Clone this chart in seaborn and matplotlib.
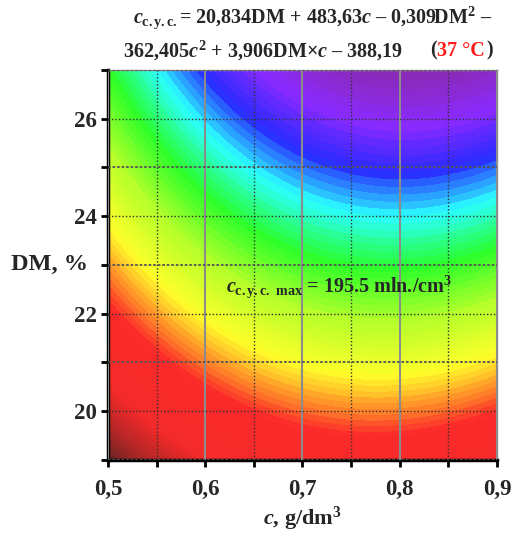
import numpy as np
import matplotlib
matplotlib.use("Agg")
import matplotlib.pyplot as plt
import seaborn as sns
from matplotlib.colors import LinearSegmentedColormap
from matplotlib.ticker import MultipleLocator, FuncFormatter

# regression coefficients from the title (37 °C)
coef_dm = 20.834
coef_c = 483.63
coef_dm2 = -0.309
coef_c2 = -362.405
coef_dmc = 3.906
intercept = -388.19

c_range = [0.5, 0.9]
dm_range = [19.0, 27.0]
x_ticks = [0.5, 0.6, 0.7, 0.8, 0.9]
y_ticks = [20, 22, 24, 26]
max_label = "195.5"

# colour stops (value, colour)
stop_values = [84, 92, 101, 117, 124, 131, 143, 154, 164, 172, 180, 191]
stop_colors = ["#5a2222", "#b02626", "#f42a2a", "#fc2a2a", "#ff9628", "#ffff2a",
               "#b4ff2a", "#2aff2a", "#2affff", "#2a2aff", "#8a2aff", "#8a2a9a"]

sns.set_style("white")
plt.rcParams["font.family"] = ["Liberation Serif", "DejaVu Serif"]
plt.rcParams["font.weight"] = "bold"
plt.rcParams["mathtext.fontset"] = "custom"
plt.rcParams["mathtext.rm"] = "Liberation Serif:bold"
plt.rcParams["mathtext.it"] = "Liberation Serif:italic:bold"
plt.rcParams["mathtext.bf"] = "Liberation Serif:bold"

cc = np.linspace(c_range[0], c_range[1], 300)
dd = np.linspace(dm_range[0], dm_range[1], 300)
C, D = np.meshgrid(cc, dd)
Z = (coef_dm * D + coef_c * C + coef_dm2 * D**2 + coef_c2 * C**2
     + coef_dmc * D * C + intercept)

vmin, vmax = stop_values[0], stop_values[-1]
pos = [(v - vmin) / (vmax - vmin) for v in stop_values]
cmap = LinearSegmentedColormap.from_list("spec", list(zip(pos, stop_colors)))

fig = plt.figure(figsize=(5.14, 5.33), dpi=100)
ax = fig.add_axes([0.210, 0.137, 0.757, 0.732])
levels = np.linspace(vmin, vmax, 80)
cs = ax.contourf(C, D, Z, levels=levels, cmap=cmap, extend="both")
cs.set_edgecolor("face")
cs.set_linewidth(0.6)

ax.set_xlim(c_range)
ax.set_ylim(dm_range)
ax.set_xticks(x_ticks)
ax.set_yticks(y_ticks)
ax.xaxis.set_minor_locator(MultipleLocator(0.05))
ax.yaxis.set_minor_locator(MultipleLocator(1))
ax.xaxis.set_major_formatter(FuncFormatter(lambda v, p: f"{v:.1f}".replace(".", ",")))

ax.set_axisbelow(False)
ax.grid(True, axis="x", which="major", color="#8c8c8c", lw=1.5, ls="-")
ax.grid(True, axis="x", which="minor", color="#333333", lw=1.0, ls=(0, (1, 1.5)))
ax.grid(True, axis="y", which="major", color="#333333", lw=1.0, ls=(0, (1, 1.5)))
ax.grid(True, axis="y", which="minor", color="#555555", lw=1.3, ls=(0, (1.5, 1)))

ax.tick_params(which="both", direction="out", length=5, width=2, color="black",
               bottom=True, left=True, top=False, right=False)
ax.tick_params(axis="x", labelsize=16.5, pad=9)
ax.tick_params(axis="y", labelsize=16.5, pad=3)
for side in ["left", "bottom"]:
    ax.spines[side].set_linewidth(2.5)
    ax.spines[side].set_color("black")
for side in ["top", "right"]:
    ax.spines[side].set_linewidth(1.0)
    ax.spines[side].set_color("#909090")
    ax.spines[side].set_visible(True)

for lab in ax.get_xticklabels() + ax.get_yticklabels():
    lab.set_fontweight("bold")

ax.set_xlabel(r"$c$, g/dm$^3$", fontsize=16, fontweight="bold", labelpad=3)
fig.text(0.022, 0.503, "DM, %", fontsize=17.5, fontweight="bold", ha="left", va="center")

ax.text(0.621, 22.45, r"$c_{\rm c.y.c.\ max}$ = " + max_label + r" mln./cm$^3$",
        fontsize=14.5, fontweight="bold", ha="left", va="baseline")

fig.text(0.259, 0.967, r"$c_{\rm c.y.c.}$= 20,834DM + 483,63$c$ – 0,309DM$^2$ –",
         fontsize=14.5, fontweight="bold", ha="left", va="center")
t2 = fig.text(0.239, 0.905, r"362,405$c^2$ + 3,906DM×$c$ – 388,19",
              fontsize=14.5, fontweight="bold", ha="left", va="center")
t3 = fig.text(0.836, 0.905, "(", fontsize=14.5, fontweight="bold", ha="left", va="center")
t4 = fig.text(0, 0, "37 °C", fontsize=14.5, fontweight="bold", color="#ff1a1a",
              ha="left", va="bottom", transform=None)
fig.canvas.draw()
r = fig.canvas.get_renderer()
bb = t3.get_window_extent(r)
t4.set_position((bb.x1 + 1, bb.y0))
bb4 = t4.get_window_extent(r)
fig.text(bb4.x1 + 1, bb.y0, ")", fontsize=14.5, fontweight="bold",
         ha="left", va="bottom", transform=None)

fig.savefig("out.png", dpi=100)
